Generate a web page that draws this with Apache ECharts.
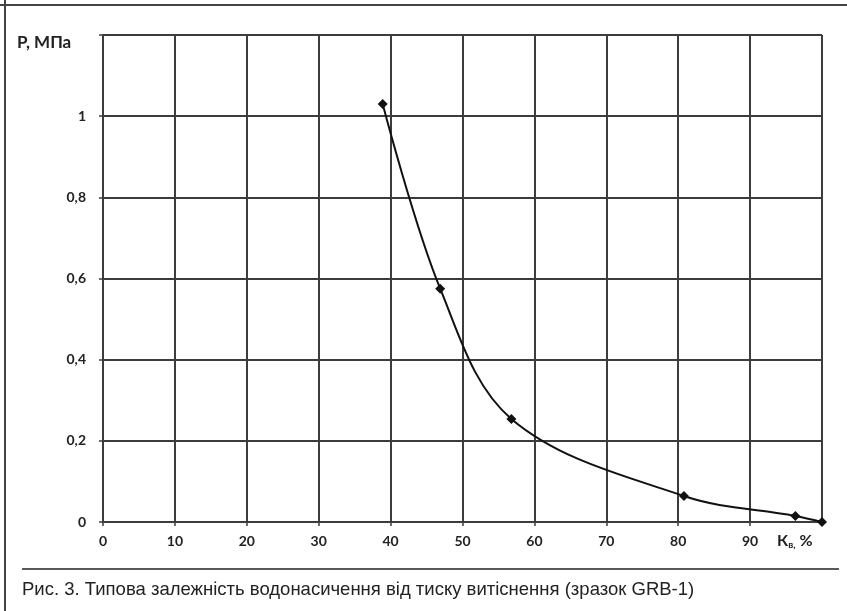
<!DOCTYPE html>
<html>
<head>
<meta charset="utf-8">
<script src="https://cdn.jsdelivr.net/npm/echarts@6/dist/echarts.min.js"></script>
<style>
html,body{margin:0;padding:0;background:#fff;}
#chart{width:847px;height:611px;}
</style>
</head>
<body>
<div id="chart"></div>
<script>
// Data
var kw = [38.9, 46.9, 56.8, 80.8, 96.3, 100];      // Кв, %
var pressure = [1.03, 0.575, 0.254, 0.064, 0.015, 0]; // Р, МПа
var xTicks = [0, 10, 20, 30, 40, 50, 60, 70, 80, 90, 100];
var yTicks = [0, 0.2, 0.4, 0.6, 0.8, 1, 1.2];
var caption = 'Рис. 3. Типова залежність водонасичення від тиску витіснення (зразок GRB-1)';
var yName = 'Р, МПа';

var points = kw.map(function (x, i) { return [x, pressure[i]]; });

var chart = echarts.init(document.getElementById('chart'), null, {renderer: 'canvas'});
var gridColor = '#3c3c3c';
var labelFont = {fontFamily: 'Lato', fontWeight: 'bold', fontSize: 14, color: '#222'};

chart.setOption({
  backgroundColor: '#fff',
  animation: false,
  grid: {left: 103, top: 35, width: 719, height: 487},
  xAxis: {
    type: 'value',
    min: xTicks[0], max: xTicks[xTicks.length - 1], interval: 10,
    axisLine: {show: true, lineStyle: {color: gridColor, width: 2}},
    axisTick: {show: true, length: 4, lineStyle: {color: gridColor, width: 1.5}},
    splitLine: {show: true, lineStyle: {color: gridColor, width: 2}},
    axisLabel: Object.assign({
      margin: 12,
      formatter: function (v) { return v === 100 ? '' : String(v); }
    }, labelFont)
  },
  yAxis: {
    type: 'value',
    min: yTicks[0], max: yTicks[yTicks.length - 1], interval: 0.2,
    axisLine: {show: true, lineStyle: {color: gridColor, width: 2}},
    axisTick: {show: true, length: 4, lineStyle: {color: gridColor, width: 1.5}},
    splitLine: {show: true, lineStyle: {color: gridColor, width: 2}},
    axisLabel: Object.assign({
      margin: 17,
      formatter: function (v) {
        if (Math.abs(v - 1.2) < 1e-6) return '';
        var s = String(Math.round(v * 10) / 10);
        return s.replace('.', ',');
      }
    }, labelFont)
  },
  series: [{
    type: 'line',
    data: points,
    smooth: 0.35,
    clip: false,
    symbol: 'diamond',
    symbolSize: 10,
    itemStyle: {color: '#111'},
    lineStyle: {color: '#111', width: 2}
  }],
  graphic: [
    {type: 'line', shape: {x1: 5, y1: 0, x2: 5, y2: 611}, style: {stroke: '#444', lineWidth: 2}},
    {type: 'line', shape: {x1: 0, y1: 5, x2: 847, y2: 5}, style: {stroke: '#444', lineWidth: 2}},
    {type: 'line', shape: {x1: 22, y1: 569, x2: 839, y2: 569}, style: {stroke: '#222', lineWidth: 1.5}},
    {type: 'text', left: 17, top: 34, style: {text: yName, font: 'bold 17px Lato', fill: '#222'}},
    {type: 'text', left: 777, top: 533, style: {
      text: '{a|К}{b|в,}{a| %}',
      rich: {
        a: {fontFamily: 'Lato', fontWeight: 'bold', fontSize: 16, fill: '#222', color: '#222'},
        b: {fontFamily: 'Lato', fontWeight: 'bold', fontSize: 10, fill: '#222', color: '#222', padding: [8, 0, 0, 0]}
      }
    }},
    {type: 'text', left: 22, top: 580, style: {text: caption, font: '18.5px "Liberation Sans"', fill: '#222'}}
  ]
});
</script>
</body>
</html>
